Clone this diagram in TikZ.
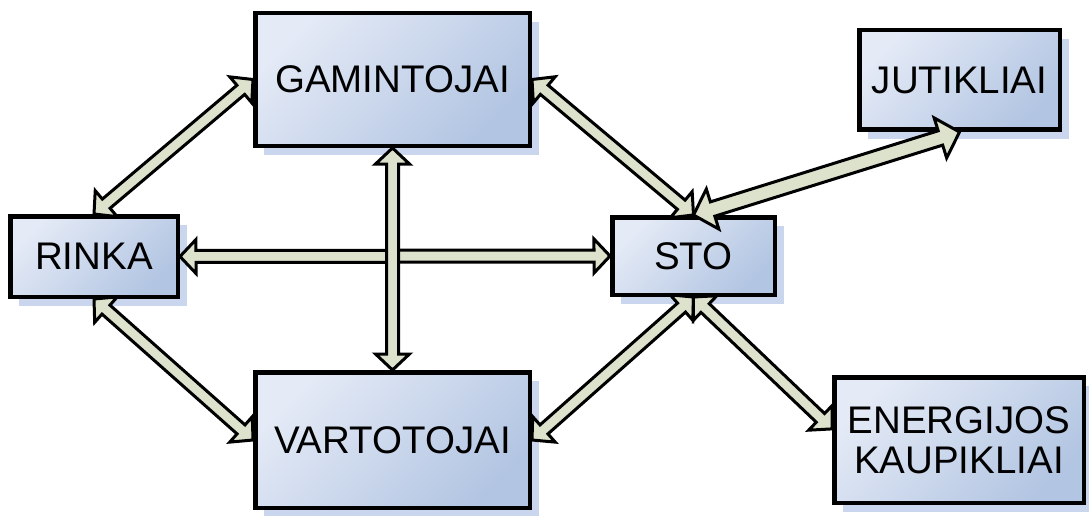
\documentclass[tikz,border=0pt]{standalone}
\usepackage{fontspec}
\setmainfont{Liberation Sans}
\usetikzlibrary{shadows, calc}

\definecolor{boxlight}{RGB}{228,234,246}
\definecolor{boxdark}{RGB}{178,197,226}
\definecolor{shadowblue}{RGB}{202,214,238}
\definecolor{arrowfill}{RGB}{221,226,205}

\tikzset{
    unit/.style={draw, line width=4.5pt, top color=boxlight, bottom color=boxdark, shading angle=45,
        drop shadow={shadow xshift=9pt, shadow yshift=-9pt, fill=shadowblue, opacity=1},
        font=\fontsize{38.5}{40}\selectfont, align=center},
    link/.style={draw=black, fill=arrowfill, line width=3pt, line join=miter}
}

% double block arrow: from, to, half shaft, half head, head length
\newcommand{\biarrow}[5]{%
    \filldraw[link] (#1)
        -- ($(#1)!#5!(#2)!#4!90:(#2)$) -- ($(#1)!#5!(#2)!#3!90:(#2)$)
        -- ($(#2)!#5!(#1)!#3!-90:(#1)$) -- ($(#2)!#5!(#1)!#4!-90:(#1)$)
        -- (#2)
        -- ($(#2)!#5!(#1)!#4!90:(#1)$) -- ($(#2)!#5!(#1)!#3!90:(#1)$)
        -- ($(#1)!#5!(#2)!#3!-90:(#2)$) -- ($(#1)!#5!(#2)!#4!-90:(#2)$)
        -- cycle;}

\begin{document}
\begin{tikzpicture}[x=1pt, y=-1pt]
    \useasboundingbox (0,0) rectangle (1089,516);

    \node[unit, minimum width=274.5pt, minimum height=132.5pt] (gam) at (392.5,79.5) {GAMINTOJAI};
    \node[unit, minimum width=200.5pt, minimum height=99.5pt] (jut) at (959.5,80) {JUTIKLIAI};
    \node[unit, minimum width=167.5pt, minimum height=80.5pt] (rinka) at (94,256.5) {RINKA};
    \node[unit, minimum width=162.5pt, minimum height=77.5pt] (sto) at (693.5,256) {STO};
    \node[unit, minimum width=274.5pt, minimum height=135.5pt] (vart) at (392.5,440) {VARTOTOJAI};
    \node[unit, minimum width=249.5pt, minimum height=125.5pt] (ener) at (959,440) {ENERGIJOS\\KAUPIKLIAI};

    \biarrow{rinka.north}{gam.west}{6pt}{17pt}{16pt}
    \biarrow{rinka.south}{vart.west}{6pt}{17pt}{16pt}
    \biarrow{rinka.east}{sto.west}{6pt}{17pt}{16pt}
    \biarrow{gam.south}{vart.north}{6pt}{17pt}{16pt}
    \biarrow{gam.east}{sto.north}{6pt}{17pt}{16pt}
    \biarrow{sto.south}{vart.east}{6pt}{17pt}{16pt}
    \biarrow{sto.south}{ener.175}{6pt}{17pt}{16pt}
    \biarrow{sto.north}{jut.south}{7.5pt}{21pt}{20pt}
\end{tikzpicture}
\end{document}
